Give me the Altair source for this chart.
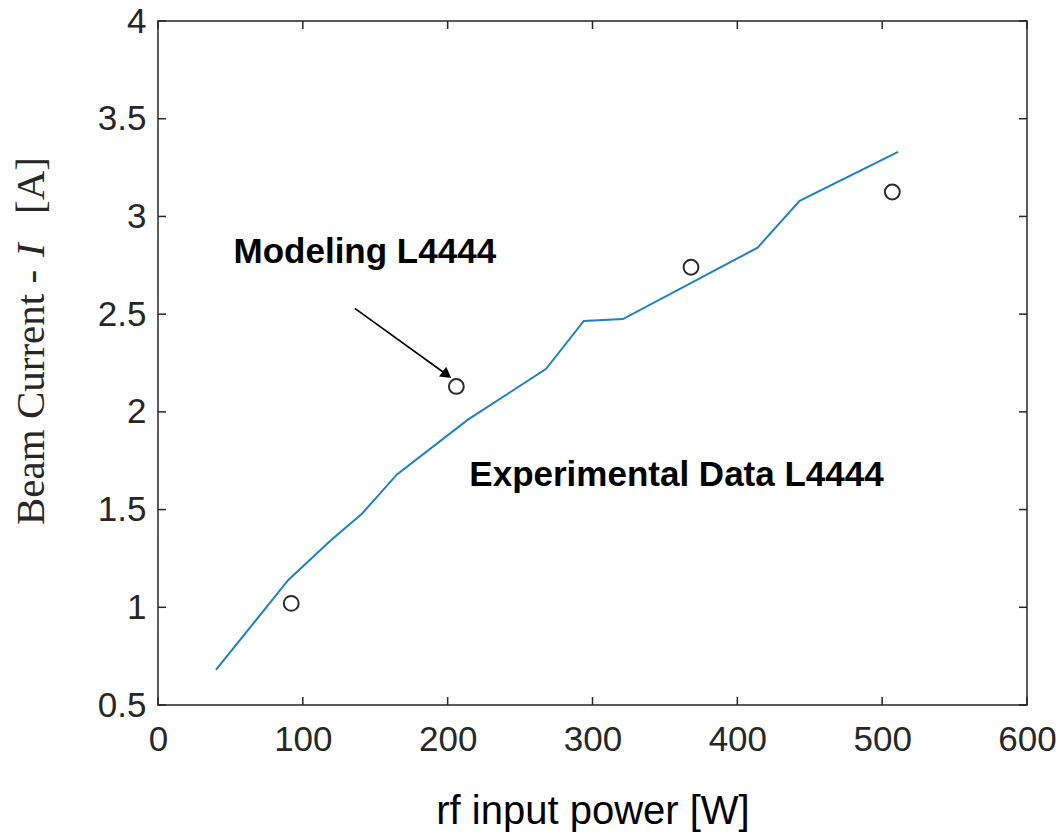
import altair as alt
import pandas as pd

# Modeling curve (blue line)
model_power = [40, 90, 119, 141, 165, 214, 268, 294, 321, 414, 443, 511]
model_current = [0.68, 1.14, 1.34, 1.48, 1.68, 1.96, 2.22, 2.465, 2.475, 2.84, 3.08, 3.33]

# Experimental points (open circles)
exp_power = [92, 206, 368, 507]
exp_current = [1.02, 2.13, 2.74, 3.125]

x_ticks = [0, 100, 200, 300, 400, 500, 600]
y_ticks = [0.5, 1, 1.5, 2, 2.5, 3, 3.5, 4]

labels = ["Modeling L4444", "Experimental Data L4444"]
label_x = [142.8, 358]
label_y = [2.82, 1.677]

arrow_from = (135.9, 2.53)
arrow_to = (198.5, 2.195)

W, H = 869, 684
DARK = "#262626"

xs = alt.Scale(domain=[0, 600], nice=False, zero=False)
ys = alt.Scale(domain=[0.5, 4], nice=False, zero=False)

model_df = pd.DataFrame({"p": model_power, "c": model_current})
exp_df = pd.DataFrame({"p": exp_power, "c": exp_current})
xt_df = pd.DataFrame({"p": x_ticks})
yt_df = pd.DataFrame({"c": y_ticks})
lab_df = pd.DataFrame({"t": labels, "p": label_x, "c": label_y})
arrow_df = pd.DataFrame({"p": [arrow_from[0]], "c": [arrow_from[1]],
                         "p2": [arrow_to[0]], "c2": [arrow_to[1]]})
head_df = pd.DataFrame({"p": [arrow_to[0]], "c": [arrow_to[1]]})

x_axis = alt.Axis(
    values=x_ticks, format="d", ticks=False, grid=False, domain=False, labelFlush=False,
    labelFontSize=35, labelFont="Liberation Sans", labelColor=DARK, labelPadding=17,
    titleFontSize=40, titleFont="Liberation Sans", titleFontWeight="normal",
    titleColor="black", titleBaseline="alphabetic", titleY=118)
y_axis = alt.Axis(
    values=y_ticks, format="~g", ticks=False, grid=False, domain=False, labelFlush=False,
    labelFontSize=35, labelFont="Liberation Sans", labelColor=DARK, labelPadding=12)

X = alt.X("p:Q", scale=xs, title="rf input power [W]", axis=x_axis)
Y = alt.Y("c:Q", scale=ys, title=None, axis=y_axis)

line = alt.Chart(model_df).mark_line(color="#2180c2", strokeWidth=2).encode(x=X, y=Y)

pts = alt.Chart(exp_df).mark_point(shape="circle", filled=False, size=220,
                                   strokeWidth=2, color="#2b2b2b", opacity=1).encode(x=X, y=Y)

xb = alt.Chart(xt_df).mark_rule(color=DARK, strokeWidth=1.5).encode(
    x=X, y=alt.value(H), y2=alt.value(H - 8))
xtop = alt.Chart(xt_df).mark_rule(color=DARK, strokeWidth=1.5).encode(
    x=X, y=alt.value(0), y2=alt.value(8))
yl = alt.Chart(yt_df).mark_rule(color=DARK, strokeWidth=1.5).encode(
    y=Y, x=alt.value(0), x2=alt.value(8))
yr = alt.Chart(yt_df).mark_rule(color=DARK, strokeWidth=1.5).encode(
    y=Y, x=alt.value(W), x2=alt.value(W - 8))

texts = alt.Chart(lab_df).mark_text(font="Liberation Sans", fontWeight="bold",
                                    fontSize=35, color="black", align="center",
                                    baseline="middle").encode(x=X, y=Y, text="t:N")

arrow = alt.Chart(arrow_df).mark_rule(color="black", strokeWidth=1.6).encode(
    x=X, y=Y, x2="p2:Q", y2="c2:Q")
head = alt.Chart(head_df).mark_point(shape="triangle", filled=True, size=150, angle=126,
                                     color="black", opacity=1).encode(x=X, y=Y)

one = pd.DataFrame({"a": [0]})
yt1 = alt.Chart(one).mark_text(text="Beam Current -", font="Liberation Serif", fontSize=41,
                               angle=270, align="left", baseline="alphabetic",
                               color=DARK).encode(x=alt.value(-114), y=alt.value(504))
yt2 = alt.Chart(one).mark_text(text="I", font="Liberation Serif", fontSize=41,
                               fontStyle="italic", angle=270, align="left",
                               baseline="alphabetic", color=DARK).encode(
    x=alt.value(-114), y=alt.value(236))
yt3 = alt.Chart(one).mark_text(text="[A]", font="Liberation Serif", fontSize=41,
                               angle=270, align="left", baseline="alphabetic",
                               color=DARK).encode(x=alt.value(-114), y=alt.value(193))

chart = alt.layer(line, pts, xb, xtop, yl, yr, texts, arrow, head, yt1, yt2, yt3).properties(
    width=W, height=H,
    autosize=alt.AutoSizeParams(type="none"),
    padding={"left": 158, "top": 21, "right": 34, "bottom": 130},
    background="white",
).configure_view(stroke=DARK, strokeWidth=1.5)

chart.save("out.html", embed_options={"renderer": "svg", "actions": False})
